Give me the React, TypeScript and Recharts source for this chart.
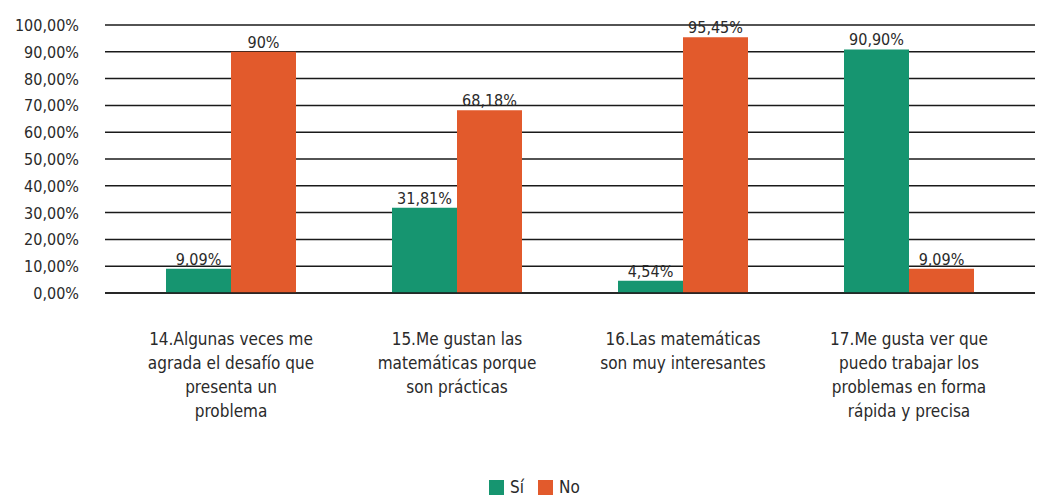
import React from "react"
import { BarChart, Bar, XAxis, YAxis, CartesianGrid, Legend, LabelList } from "recharts"

const categories = [
  "14.Algunas veces me|agrada el desafío que|presenta un|problema",
  "15.Me gustan las|matemáticas porque|son prácticas",
  "16.Las matemáticas|son muy interesantes",
  "17.Me gusta ver que|puedo trabajar los|problemas en forma|rápida y precisa",
]
const siValues = [9.09, 31.81, 4.54, 90.9]
const noValues = [90, 68.18, 95.45, 9.09]
const siLabels = ["9,09%", "31,81%", "4,54%", "90,90%"]
const noLabels = ["90%", "68,18%", "95,45%", "9,09%"]
const yTicks = [0, 10, 20, 30, 40, 50, 60, 70, 80, 90, 100]

const data = categories.map((name, i) => ({
  name,
  si: siValues[i],
  no: noValues[i],
  siLabel: siLabels[i],
  noLabel: noLabels[i],
}))

const FONT = "'Liberation Sans Narrow', 'DejaVu Sans Condensed', sans-serif"
const GREEN = "#169570"
const ORANGE = "#e25a2c"

const XTick = (props: any) => {
  const { x, y, payload } = props
  const lines = String(payload.value).split("|")
  return (
    <text x={x} y={y} textAnchor="middle" fill="#2a2a2a" fontSize={17} fontFamily={FONT}>
      {lines.map((l, i) => (
        <tspan key={i} x={x} dy={i === 0 ? 44 : 24}>
          {l}
        </tspan>
      ))}
    </text>
  )
}

const YTick = (props: any) => {
  const { y, payload } = props
  return (
    <text x={79} y={y} dy={6} textAnchor="end" fill="#2a2a2a" fontSize={16} fontFamily={FONT}>
      {payload.value.toFixed(2).replace(".", ",")}%
    </text>
  )
}

const LegendContent = () => (
  <div style={{ display: "flex", justifyContent: "center", gap: 14, fontFamily: FONT, fontSize: 17, color: "#2a2a2a", paddingLeft: 34, transform: "translateY(9px)" }}>
    <span style={{ display: "flex", alignItems: "center", gap: 6 }}>
      <span style={{ width: 15, height: 15, background: GREEN, display: "inline-block" }} />Sí
    </span>
    <span style={{ display: "flex", alignItems: "center", gap: 6 }}>
      <span style={{ width: 15, height: 15, background: ORANGE, display: "inline-block" }} />No
    </span>
  </div>
)

export default function App() {
  return (
    <div style={{ position: "absolute", left: 0, top: 0, background: "#fff" }}>
      <BarChart
        width={1043}
        height={498}
        data={data}
        margin={{ top: 25, right: 8, left: 0, bottom: 0 }}
        barCategoryGap={48}
        barGap={0}
      >
        <CartesianGrid vertical={false} stroke="#1a1a1a" strokeWidth={1.5} />
        <XAxis
          dataKey="name"
          tick={<XTick />}
          tickLine={false}
          axisLine={{ stroke: "#1a1a1a", strokeWidth: 1.5 }}
          height={175}
          interval={0}
          padding={{ left: 13, right: 13 }}
        />
        <YAxis
          domain={[0, 100]}
          ticks={yTicks}
          width={105}
          tick={<YTick />}
          tickLine={false}
          axisLine={false}
        />
        <Legend verticalAlign="bottom" height={30} content={<LegendContent />} />
        <Bar dataKey="si" name="Sí" fill={GREEN} isAnimationActive={false}>
          <LabelList dataKey="siLabel" position="top" offset={4} fill="#2a2a2a" fontSize={16} fontFamily={FONT} />
        </Bar>
        <Bar dataKey="no" name="No" fill={ORANGE} isAnimationActive={false}>
          <LabelList dataKey="noLabel" position="top" offset={4} fill="#2a2a2a" fontSize={16} fontFamily={FONT} />
        </Bar>
      </BarChart>
    </div>
  )
}
